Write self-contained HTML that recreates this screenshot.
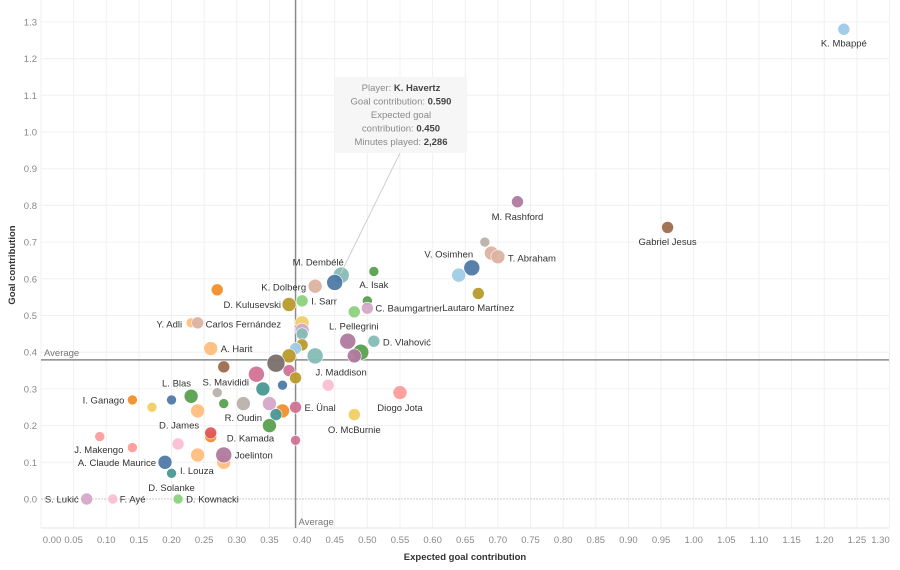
<!DOCTYPE html>
<html><head><meta charset="utf-8">
<style>
html,body{margin:0;padding:0;background:#fff;}
svg{display:block;font-family:"Liberation Sans",sans-serif;}
</style></head>
<body>
<svg id="chart" width="900" height="570" viewBox="0 0 900 570">
  <g id="grid"></g>
  <g id="axes"></g>
  <g id="refs"></g>
  <g id="marks"></g>
  <g id="labels"></g>
  <g id="tooltip"></g>
</svg>
<script>
const xTicks = [0,0.05,0.1,0.15,0.2,0.25,0.3,0.35,0.4,0.45,0.5,0.55,0.6,0.65,0.7,0.75,0.8,0.85,0.9,0.95,1.0,1.05,1.1,1.15,1.2,1.25,1.3];
const yTicks = [0,0.1,0.2,0.3,0.4,0.5,0.6,0.7,0.8,0.9,1.0,1.1,1.2,1.3];
const avgX = 0.39;
const avgY = 0.379;
// expected goal contribution
const xgc = [1.23,0.96,0.73,0.68,0.69,0.70,0.66,0.64,0.67,0.46,0.45,0.51,0.42,0.50,0.50,0.48,0.40,0.38,0.27,0.23,0.24,0.40,0.40,0.40,0.40,0.47,0.51,0.49,0.48,0.42,0.39,0.38,0.26,0.36,0.28,0.33,0.38,0.39,0.44,0.37,0.34,0.27,0.23,0.20,0.14,0.17,0.24,0.28,0.31,0.35,0.37,0.36,0.39,0.35,0.55,0.48,0.26,0.26,0.21,0.39,0.09,0.14,0.24,0.28,0.28,0.19,0.20,0.07,0.11,0.21];
// goal contribution
const gc = [1.28,0.74,0.81,0.70,0.67,0.66,0.63,0.61,0.56,0.61,0.59,0.62,0.58,0.54,0.52,0.51,0.54,0.53,0.57,0.48,0.48,0.48,0.46,0.45,0.42,0.43,0.43,0.40,0.39,0.39,0.41,0.39,0.41,0.37,0.36,0.34,0.35,0.33,0.31,0.31,0.30,0.29,0.28,0.27,0.27,0.25,0.24,0.26,0.26,0.26,0.24,0.23,0.25,0.20,0.29,0.23,0.17,0.18,0.15,0.16,0.17,0.14,0.12,0.10,0.12,0.10,0.07,0.00,0.00,0.00];
const names = ["K. Mbappé","Gabriel Jesus","M. Rashford","","","T. Abraham","V. Osimhen","","Lautaro Martínez","M. Dembélé","K. Havertz","A. Isak","K. Dolberg","","C. Baumgartner","","I. Sarr","D. Kulusevski","","Y. Adli","Carlos Fernández","","","","","L. Pellegrini","D. Vlahović","","","J. Maddison","","","A. Harit","","S. Mavididi","","","","","","","","","L. Blas","I. Ganago","","","","R. Oudin","","","","E. Ünal","","Diogo Jota","O. McBurnie","","D. Kamada","D. James","","","J. Makengo","","I. Louza","Joelinton","A. Claude Maurice","D. Solanke","S. Lukić","F. Ayé","D. Kownacki"];
const sizes = [6,6,6,5,7,7,8,7,6,8,8,5,7,5,6,6,6,7,6,5,6,7,7,6,6,8,6,8,7,8,6,7,7,9,6,8,6,6,6,5,7,5,7,5,5,5,7,5,7,7,7,6,6,7,7,6,6,6,6,5,5,5,7,7,8,7,5,6,5,5];
const colors = ["#9dc9e8","#9c6b4e","#b0799e","#bab0ac","#dcb2a0","#dcb2a0","#4e79a7","#a0cbe8","#b89a2b","#86bcb6","#4e79a7","#59a14f","#dcb2a0","#59a14f","#d4a6c8","#8cd17d","#8cd17d","#b89a2b","#f28e2b","#ffbe7d","#dcb2a0","#f1ce63","#d4a6c8","#86bcb6","#b89a2b","#b0799e","#86bcb6","#59a14f","#b0799e","#86bcb6","#a0cbe8","#b89a2b","#ffbe7d","#79706e","#9c6b4e","#d37295","#d37295","#b89a2b","#fabfd2","#4e79a7","#499894","#bab0ac","#59a14f","#4e79a7","#f28e2b","#f1ce63","#ffbe7d","#59a14f","#bab0ac","#d4a6c8","#f28e2b","#499894","#d37295","#59a14f","#ff9d9a","#f1ce63","#f28e2b","#e15759","#fabfd2","#d37295","#ff9d9a","#ff9d9a","#ffbe7d","#ffbe7d","#b0799e","#4e79a7","#499894","#d4a6c8","#fabfd2","#8cd17d"];
// label placement: [anchor, dx, dy] relative to the point
const labelPos = {
 "K. Mbappé":["middle",0,14],"Gabriel Jesus":["middle",0,14],"M. Rashford":["middle",0,15],
 "T. Abraham":["start",10,1],"V. Osimhen":["middle",-23,-14],"Lautaro Martínez":["middle",0,14],
 "M. Dembélé":["middle",-23,-13],"A. Isak":["middle",0,13],"K. Dolberg":["end",-9,1],
 "C. Baumgartner":["start",8,0],"I. Sarr":["start",9,0],"D. Kulusevski":["end",-8,0],
 "Y. Adli":["end",-9,1],"Carlos Fernández":["start",8,1],"L. Pellegrini":["middle",6,-15],
 "D. Vlahović":["start",9,1],"A. Harit":["start",10,0],"J. Maddison":["middle",26,16],
 "S. Mavididi":["middle",2,15],"L. Blas":["middle",5,-17],"I. Ganago":["end",-8,0],
 "R. Oudin":["middle",0,14],"E. Ünal":["start",9,0],"Diogo Jota":["middle",0,15],
 "O. McBurnie":["middle",0,15],"D. James":["middle",1,-19],"D. Kamada":["start",16,5],
 "J. Makengo":["end",-9,2],"Joelinton":["start",11,0],"A. Claude Maurice":["end",-9,0],
 "I. Louza":["end",-10,8],"D. Solanke":["middle",0,14],"S. Lukić":["end",-8,0],
 "F. Ayé":["start",7,0],"D. Kownacki":["start",8,0]
};
const L=41, R=889, T=0, B=528;
function xs(v){return 41 + v*652.7;}
function ys(v){return 499 - v*367;}
const NS="http://www.w3.org/2000/svg";
function mk(tag, attrs, parent){const e=document.createElementNS(NS,tag);for(const k in attrs)e.setAttribute(k,attrs[k]);parent.appendChild(e);return e;}
const grid=document.getElementById('grid'), axes=document.getElementById('axes'), refs=document.getElementById('refs'), marks=document.getElementById('marks'), labels=document.getElementById('labels'), tip=document.getElementById('tooltip');

xTicks.forEach((t,i)=>{
  const g=mk('line',{x1:xs(t),x2:xs(t),y1:T,y2:B,stroke:'#f0f0f0','stroke-width':1},grid);
  
  
  let x=xs(t); if(i===0)x+=11; if(i===xTicks.length-1)x-=9;
  const tx=mk('text',{x:x,y:543,'text-anchor':'middle','font-size':9.5,fill:'#888'},axes);
  tx.textContent=t.toFixed(2);
  
  
});
yTicks.forEach(t=>{
  const g=mk('line',{x1:L,x2:R,y1:ys(t),y2:ys(t),stroke:t===0?'#c8c8c8':'#f0f0f0','stroke-width':1,'stroke-dasharray':t===0?'2,1':'none'},grid);
  
  
  const tx=mk('text',{x:37,y:ys(t)+3.5,'text-anchor':'end','font-size':9.5,fill:'#888'},axes);
  tx.textContent=t.toFixed(1);
  
  
});
const bl=mk('line',{x1:L,x2:R,y1:B,y2:B,stroke:'#e6e6e6'},axes);


const xt=mk('text',{x:465,y:560,'text-anchor':'middle','font-size':9.5,'font-weight':'bold',fill:'#333'},axes);
xt.textContent='Expected goal contribution';


const yt=mk('text',{x:0,y:0,transform:'translate(15,265) rotate(-90)','text-anchor':'middle','font-size':9.5,'font-weight':'bold',fill:'#333'},axes);
yt.textContent='Goal contribution';



const va=mk('line',{x1:xs(avgX),x2:xs(avgX),y1:T,y2:B,stroke:'#8a8a8a','stroke-width':1.5},refs);


const ha=mk('line',{x1:L,x2:R,y1:ys(avgY),y2:ys(avgY),stroke:'#8a8a8a','stroke-width':1.5},refs);


const a1=mk('text',{x:44,y:ys(avgY)-4,'font-size':9.5,fill:'#777'},refs);
a1.textContent='Average';


const a2=mk('text',{x:xs(avgX)+3,y:525,'font-size':9.5,fill:'#777'},refs);
a2.textContent='Average';



xgc.forEach((v,i)=>{
  const c=mk('circle',{cx:xs(v),cy:ys(gc[i]),r:sizes[i],fill:colors[i],'fill-opacity':0.95,stroke:'#fff','stroke-width':0.6},marks);
  
  
  const n=names[i];
  if(n && labelPos[n]){
    const p=labelPos[n];
    const t=mk('text',{x:xs(v)+p[1],y:ys(gc[i])+p[2]+3.5,'text-anchor':p[0],'font-size':9.5,fill:'#333'},labels);
    t.textContent=n;
    
    
  }
});

// tooltip for K. Havertz
const hx=xs(0.45)+6, hy=ys(0.59)-9;
const ln=mk('line',{x1:hx,y1:hy,x2:400,y2:153,stroke:'#cfcfcf','stroke-width':1},tip);


const box=mk('rect',{x:335,y:77,width:132,height:76,fill:'#f5f5f5','fill-opacity':0.95},tip);


const tl=[['Player: ','K. Havertz'],['Goal contribution: ','0.590'],['Expected goal',''],['contribution: ','0.450'],['Minutes played: ','2,286']];
tl.forEach((l,i)=>{
  const t=mk('text',{x:401,y:91+i*13.5,'text-anchor':'middle','font-size':9.5,fill:'#8a8a8a'},tip);
  
  
  const s1=mk('tspan',{},t); s1.textContent=l[0];
  if(l[1]){const s2=mk('tspan',{'font-weight':'bold',fill:'#444'},t); s2.textContent=l[1];}
});
</script>
</body></html>
